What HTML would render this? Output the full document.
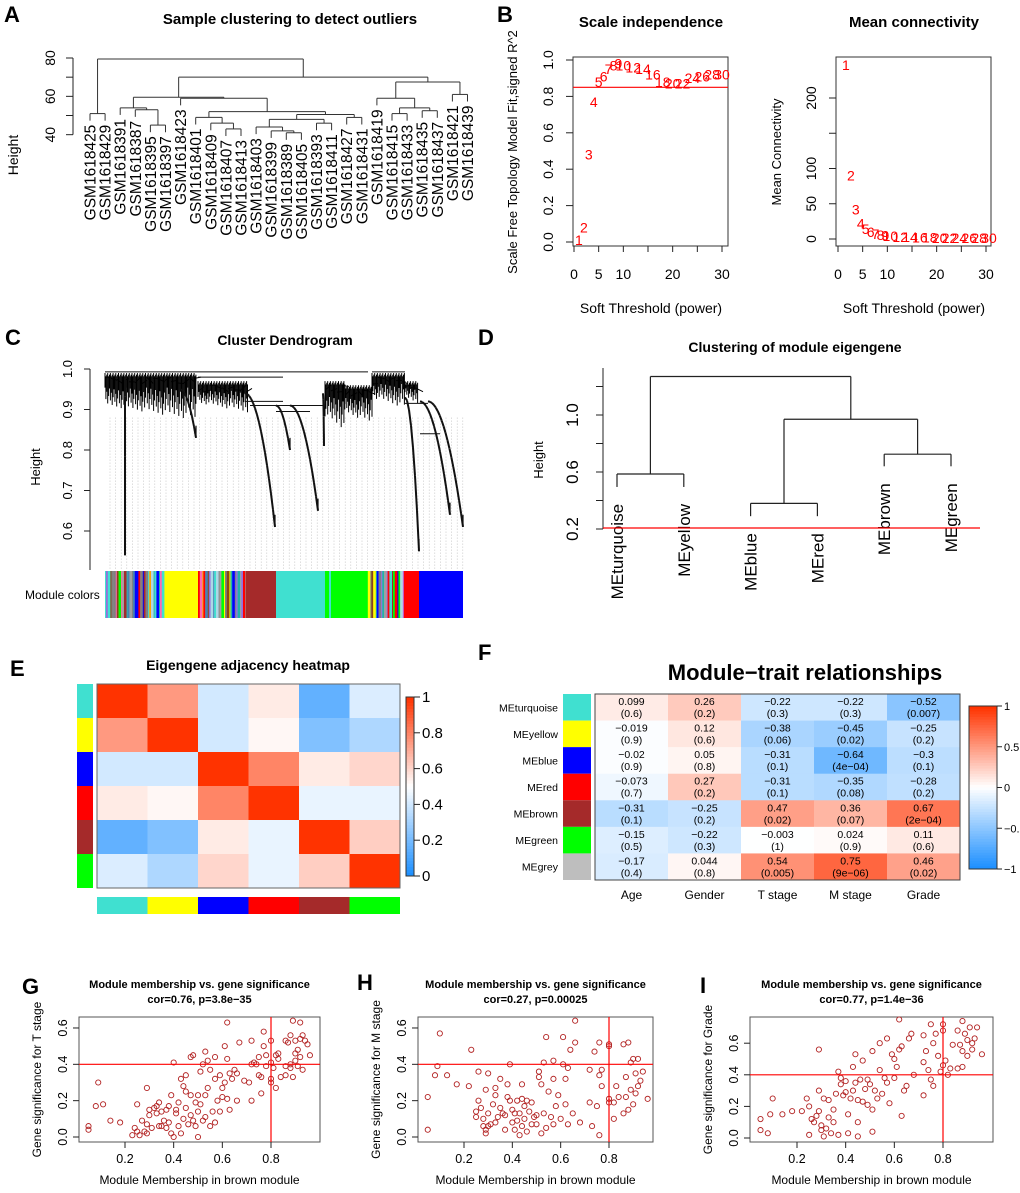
<!DOCTYPE html>
<html><head><meta charset="utf-8"><style>
html,body{margin:0;padding:0;background:#fff}
svg{display:block;font-family:"Liberation Sans",Arial,sans-serif}
</style></head><body>
<svg id="fig" width="1020" height="1193" viewBox="0 0 1020 1193" xmlns="http://www.w3.org/2000/svg"></svg>
<script>
// ---------- data ----------
const aLeaves=["GSM1618425","GSM1618429","GSM1618391","GSM1618387","GSM1618395","GSM1618397","GSM1618423","GSM1618401","GSM1618409","GSM1618407","GSM1618413","GSM1618403","GSM1618399","GSM1618389","GSM1618405","GSM1618393","GSM1618411","GSM1618427","GSM1618431","GSM1618419","GSM1618415","GSM1618433","GSM1618435","GSM1618437","GSM1618421","GSM1618439"];
const aTree=[[0,1,51],[[[2,[3,[4,5,45],53],54],[6,[[7,[8,[9,10,43],46],49],[[[11,[12,[13,14,41],42],44],[15,16,46],48],[17,18,49],50.5],52],59],59.5],[[19,[[20,21,51],[22,23,52.5],54],59],[24,25,61],67.5],70],79.5];
const bPowers=[1,2,3,4,5,6,7,8,9,10,12,14,16,18,20,22,24,26,28,30];
const bFit=[0.01,0.08,0.48,0.77,0.88,0.91,0.95,0.97,0.98,0.97,0.96,0.95,0.92,0.88,0.87,0.87,0.90,0.91,0.92,0.92];
const bConn=[247,90,42,22,14,10,7,6,5,4,3,2.5,2,2,1.5,1.5,1.2,1.2,1,1];
const cBlocks=[[105,196,0.99,0.87],[198,248,0.97,0.89],[325,345,0.97,0.84],[345,372,0.96,0.86],[372,405,0.99,0.90],[405,418,0.97,0.91]];
const cTails=[[125,0.98,125,0.54],[180,0.95,196,0.83],[245,0.94,275,0.61],[276,0.91,290,0.80],[290,0.91,318,0.65],[323,0.94,324,0.81],[405,0.93,419,0.55],[420,0.92,450,0.64],[428,0.92,463,0.61]];
const cLinks=[[105,368,0.993],[198,283,0.98],[245,283,0.92],[250,323,0.91],[276,310,0.895],[372,405,0.993],[405,428,0.915],[420,440,0.84]];
const cSegs=[[105,165,"mix"],[165,198,"#FFFF00"],[198,246,"mix"],[246,276,"#A52A2A"],[276,325,"#40E0D0"],[325,329,"#00FF00"],[329,331,"#40E0D0"],[331,366,"#00FF00"],[366,404,"mix2"],[404,419,"#FF0000"],[419,463,"#0000FF"]];
const stripePal=["#40E0D0","#FFA500","#0000FF","#A52A2A","#808080","#00FF00","#9370DB","#FFFF00","#ADD8E6","#FF0000","#20B2AA","#808080","#4682B4","#FF69B4","#40E0D0","#0000FF","#A0A0A0","#8B4513"];
const dNames=["MEturquoise","MEyellow","MEblue","MEred","MEbrown","MEgreen"];
const dLeafEnd=[0.495,0.495,0.29,0.29,0.64,0.64];
const dMerges=[[0,1,0.586],[2,3,0.38],[4,5,0.725],["b","c",0.97],["a","d",1.27]];
const eMods=["#40E0D0","#FFFF00","#0000FF","#FF0000","#A52A2A","#00FF00"];
const eAdj=[[1,0.75,0.4,0.55,0.15,0.42],[0.75,1,0.4,0.52,0.22,0.32],[0.4,0.4,1,0.8,0.55,0.6],[0.55,0.52,0.8,1,0.45,0.45],[0.15,0.22,0.55,0.45,1,0.62],[0.42,0.32,0.6,0.45,0.62,1]];
const fRows=["MEturquoise","MEyellow","MEblue","MEred","MEbrown","MEgreen","MEgrey"];
const fRowCols=["#40E0D0","#FFFF00","#0000FF","#FF0000","#A52A2A","#00FF00","#BEBEBE"];
const fTraits=["Age","Gender","T stage","M stage","Grade"];
const fCor=[[0.099,0.26,-0.22,-0.22,-0.52],[-0.019,0.12,-0.38,-0.45,-0.25],[-0.02,0.05,-0.31,-0.64,-0.3],[-0.073,0.27,-0.31,-0.35,-0.28],[-0.31,-0.25,0.47,0.36,0.67],[-0.15,-0.22,-0.003,0.024,0.11],[-0.17,0.044,0.54,0.75,0.46]];
const fP=[["0.6","0.2","0.3","0.3","0.007"],["0.9","0.6","0.06","0.02","0.2"],["0.9","0.8","0.1","4e\u221204","0.1"],["0.7","0.2","0.1","0.08","0.2"],["0.1","0.2","0.02","0.07","2e\u221204"],["0.5","0.3","1","0.9","0.6"],["0.4","0.8","0.005","9e\u221206","0.02"]];
const gX=[0.05,0.05,0.09,0.08,0.11,0.14,0.18,0.23,0.24,0.25,0.25,0.26,0.27,0.28,0.29,0.29,0.29,0.30,0.30,0.31,0.32,0.33,0.33,0.34,0.34,0.35,0.35,0.36,0.37,0.37,0.38,0.38,0.39,0.39,0.40,0.40,0.41,0.41,0.42,0.42,0.43,0.43,0.44,0.44,0.45,0.45,0.45,0.46,0.47,0.47,0.47,0.48,0.48,0.49,0.49,0.50,0.50,0.50,0.51,0.51,0.52,0.52,0.53,0.53,0.53,0.54,0.54,0.55,0.55,0.56,0.57,0.57,0.57,0.58,0.59,0.59,0.60,0.60,0.61,0.61,0.62,0.62,0.62,0.63,0.63,0.64,0.65,0.66,0.66,0.67,0.69,0.71,0.72,0.72,0.72,0.73,0.74,0.75,0.75,0.76,0.76,0.77,0.77,0.78,0.78,0.80,0.80,0.80,0.80,0.81,0.82,0.82,0.83,0.83,0.84,0.86,0.86,0.86,0.87,0.88,0.88,0.88,0.89,0.89,0.90,0.90,0.90,0.91,0.91,0.92,0.92,0.92,0.93,0.93,0.94,0.95,0.96];
const gY=[0.06,0.04,0.30,0.17,0.18,0.09,0.08,0.01,0.05,0.18,0.03,0.01,0.09,0.03,0.27,0.07,0.02,0.15,0.12,0.05,0.16,0.13,0.17,0.06,0.19,0.14,0.06,0.09,0.15,0.05,0.17,0.08,0.02,0.23,0.41,0.00,0.13,0.15,0.06,0.19,0.32,0.02,0.10,0.28,0.34,0.16,0.25,0.07,0.44,0.23,0.12,0.45,0.09,0.19,0.06,0.14,0.00,0.23,0.36,0.18,0.40,0.09,0.47,0.23,0.11,0.42,0.27,0.37,0.06,0.14,0.44,0.32,0.08,0.20,0.14,0.34,0.22,0.27,0.50,0.30,0.63,0.43,0.21,0.15,0.35,0.32,0.37,0.35,0.20,0.52,0.31,0.30,0.53,0.40,0.20,0.41,0.40,0.44,0.34,0.33,0.24,0.58,0.50,0.39,0.45,0.53,0.32,0.30,0.41,0.38,0.27,0.45,0.46,0.43,0.33,0.53,0.39,0.34,0.52,0.56,0.40,0.38,0.33,0.64,0.53,0.42,0.46,0.48,0.39,0.63,0.54,0.44,0.56,0.37,0.53,0.51,0.45];
const hX=[0.05,0.05,0.08,0.09,0.10,0.13,0.17,0.22,0.23,0.25,0.25,0.26,0.26,0.27,0.28,0.28,0.29,0.29,0.29,0.30,0.30,0.30,0.31,0.32,0.33,0.33,0.33,0.34,0.35,0.35,0.36,0.37,0.37,0.38,0.38,0.39,0.39,0.40,0.40,0.41,0.41,0.42,0.42,0.43,0.43,0.44,0.44,0.44,0.45,0.45,0.46,0.46,0.47,0.48,0.48,0.49,0.50,0.50,0.51,0.51,0.52,0.52,0.53,0.53,0.54,0.54,0.55,0.56,0.57,0.57,0.57,0.58,0.59,0.60,0.61,0.61,0.62,0.62,0.63,0.63,0.64,0.65,0.66,0.66,0.68,0.72,0.72,0.73,0.74,0.75,0.76,0.76,0.76,0.77,0.77,0.80,0.80,0.80,0.80,0.82,0.82,0.83,0.84,0.86,0.86,0.87,0.87,0.88,0.88,0.89,0.89,0.90,0.90,0.91,0.91,0.92,0.92,0.93,0.94,0.96];
const hY=[0.22,0.04,0.34,0.39,0.57,0.34,0.29,0.28,0.48,0.11,0.14,0.36,0.20,0.16,0.06,0.10,0.26,0.02,0.04,0.35,0.13,0.06,0.07,0.18,0.27,0.23,0.08,0.11,0.32,0.16,0.13,0.12,0.04,0.22,0.29,0.40,0.20,0.15,0.08,0.13,0.04,0.20,0.09,0.13,0.01,0.29,0.21,0.06,0.17,0.10,0.20,0.03,0.14,0.19,0.07,0.11,0.12,0.07,0.33,0.36,0.29,0.02,0.41,0.13,0.55,0.05,0.25,0.11,0.42,0.32,0.07,0.17,0.23,0.10,0.40,0.55,0.32,0.18,0.38,0.07,0.48,0.13,0.64,0.52,0.08,0.37,0.19,0.06,0.47,0.17,0.52,0.34,0.01,0.28,0.37,0.51,0.50,0.21,0.19,0.19,0.10,0.28,0.22,0.51,0.13,0.33,0.22,0.52,0.15,0.26,0.41,0.43,0.18,0.35,0.24,0.43,0.28,0.31,0.36,0.21];
const iX=[0.05,0.05,0.08,0.09,0.10,0.14,0.18,0.22,0.24,0.25,0.25,0.26,0.27,0.28,0.29,0.29,0.29,0.30,0.30,0.31,0.31,0.32,0.33,0.33,0.34,0.35,0.35,0.36,0.37,0.37,0.38,0.38,0.39,0.40,0.40,0.41,0.41,0.42,0.43,0.43,0.44,0.44,0.45,0.45,0.45,0.46,0.47,0.47,0.48,0.49,0.49,0.50,0.51,0.51,0.51,0.52,0.53,0.54,0.54,0.55,0.56,0.57,0.57,0.58,0.59,0.60,0.60,0.61,0.62,0.62,0.63,0.63,0.64,0.65,0.66,0.67,0.68,0.72,0.72,0.72,0.73,0.74,0.75,0.75,0.76,0.76,0.77,0.78,0.79,0.80,0.80,0.80,0.81,0.82,0.83,0.84,0.86,0.86,0.87,0.88,0.88,0.88,0.89,0.90,0.90,0.91,0.92,0.92,0.93,0.94,0.96];
const iY=[0.12,0.05,0.03,0.15,0.25,0.15,0.17,0.17,0.25,0.20,0.02,0.12,0.10,0.14,0.17,0.56,0.30,0.08,0.05,0.25,0.01,0.06,0.24,0.13,0.03,0.18,0.10,0.28,0.42,0.02,0.34,0.38,0.27,0.29,0.36,0.15,0.03,0.25,0.45,0.30,0.53,0.35,0.10,0.24,0.01,0.37,0.49,0.23,0.31,0.37,0.21,0.34,0.55,0.18,0.04,0.30,0.25,0.60,0.43,0.28,0.38,0.63,0.35,0.22,0.53,0.50,0.38,0.45,0.75,0.56,0.58,0.14,0.30,0.33,0.63,0.66,0.40,0.65,0.48,0.27,0.55,0.43,0.72,0.37,0.60,0.33,0.66,0.52,0.42,0.72,0.68,0.46,0.49,0.40,0.44,0.59,0.68,0.44,0.59,0.74,0.55,0.45,0.66,0.52,0.62,0.70,0.60,0.56,0.63,0.70,0.53];

// ---------- helpers ----------
const NS="http://www.w3.org/2000/svg";
const svg=document.getElementById('fig');
function el(tag,attrs,name){
  const e=document.createElementNS(NS,tag);
  for(const k in attrs) e.setAttribute(k,attrs[k]);
  
  
  svg.appendChild(e); return e;
}
function L(x1,y1,x2,y2,name,stroke,w,dash){const a={x1,y1,x2,y2,stroke:stroke||"#222","stroke-width":w||1};if(dash)a["stroke-dasharray"]=dash;return el("line",a,name);}
function R(x,y,w,h,fill,name,stroke){const a={x,y,width:w,height:h,fill};if(stroke){a.stroke=stroke;a["stroke-width"]=1;}return el("rect",a,name);}
function T(x,y,s,size,name,o){o=o||{};const a={x,y,"font-size":size,"text-anchor":o.a||"middle",fill:o.f||"#000"};
  if(o.b)a["font-weight"]="bold"; if(o.r)a.transform="rotate(-90 "+x+" "+y+")";
  const e=el("text",a,name); e.textContent=s; return e;}
function mix(c1,c2,t){return "rgb("+[0,1,2].map(i=>Math.round(c1[i]+(c2[i]-c1[i])*t)).join(",")+")";}
const BL=[30,144,255],WH=[255,255,255],RD=[255,51,0];
function bwr(t){t=Math.max(0,Math.min(1,t));return t<0.5?mix(BL,WH,t/0.5):mix(WH,RD,(t-0.5)/0.5);}

// panel letters
[["A",4,22],["B",497,22],["C",5,345],["D",478,345],["E",10,676],["F",478,660],["G",22,994],["H",357,990],["I",700,993]].forEach(p=>T(p[1],p[2],p[0],22,"panel-label-"+p[0].toLowerCase(),{a:"start",b:1}));

// ---------- Panel A ----------
T(290,24,"Sample clustering to detect outliers",15,"title-sample-clustering",{b:1});
const yA=h=>58+(80-h)*1.917, xA=i=>90+i*15.1;
L(73,yA(80),73,yA(40),"a-y-axis");
[40,50,60,70,80].forEach(v=>L(66,yA(v),73,yA(v),"a-y-tick"));
[40,60,80].forEach(v=>T(55,yA(v),String(v),14,"a-y-tick-label",{r:1}));
T(18,155,"Height",14,"a-y-axis-title",{r:1});
function drawA(n){
  if(typeof n==="number") return {x:xA(n),leaf:n};
  const l=drawA(n[0]), r=drawA(n[1]);
  [l,r].forEach(c=>{
    if(c.leaf!==undefined){const yb=yA(n[2]-3.7);L(c.x,yA(n[2]),c.x,yb,"a-leaf-branch","#333");T(c.x+5.5,yb+4,aLeaves[c.leaf],15.5,"a-leaf-label",{a:"end",r:1});}
    else L(c.x,yA(c.h),c.x,yA(n[2]),"a-branch","#333");
  });
  L(l.x,yA(n[2]),r.x,yA(n[2]),"a-merge","#333");
  return {x:(l.x+r.x)/2,h:n[2]};
}
const rootA=drawA(aTree);

// ---------- Panel B left ----------
T(651,27,"Scale independence",15,"title-scale-independence",{b:1});
const xB1=p=>574+p*(722-574)/30, yB1=v=>242-v*182;
R(573,57,155,189,"none","plot-box-scale",'#333');
L(573,yB1(0.85),728,yB1(0.85),"r2-cutoff-line","#f00",1.2);
[0,5,10,15,20,25,30].forEach(v=>L(xB1(v),246,xB1(v),252,"b1-x-tick"));
[0,5,10,20,30].forEach(v=>T(xB1(v),279,String(v),14,"b1-x-tick-label"));
[0,0.2,0.4,0.6,0.8,1].forEach(v=>{L(566,yB1(v),573,yB1(v),"b1-y-tick");T(553,yB1(v),v.toFixed(1),14,"b1-y-tick-label",{r:1});});
T(517,152,"Scale Free Topology Model Fit,signed R^2",13,"b1-y-axis-title",{r:1});
T(651,313,"Soft Threshold (power)",14,"b1-x-axis-title");
bPowers.forEach((p,i)=>T(xB1(p),yB1(bFit[i])+5,String(p),14,"b1-power-label",{f:"#f00"}));

// ---------- Panel B right ----------
T(914,27,"Mean connectivity",15,"title-mean-connectivity",{b:1});
const xB2=p=>838+p*(986-838)/30, yB2=v=>239-v*0.705;
R(836,57,155,189,"none","plot-box-connectivity",'#333');
[0,5,10,15,20,25,30].forEach(v=>L(xB2(v),246,xB2(v),252,"b2-x-tick"));
[0,5,10,20,30].forEach(v=>T(xB2(v),279,String(v),14,"b2-x-tick-label"));
[0,50,100,150,200].forEach(v=>L(829,yB2(v),836,yB2(v),"b2-y-tick"));
[0,50,100,200].forEach(v=>T(816,yB2(v),String(v),14,"b2-y-tick-label",{r:1}));
T(781,152,"Mean Connectivity",13,"b2-y-axis-title",{r:1});
T(914,313,"Soft Threshold (power)",14,"b2-x-axis-title");
bPowers.forEach((p,i)=>T(xB2(p)+3,Math.min(yB2(bConn[i])+5,243),String(p),14,"b2-power-label",{f:"#f00"}));

// ---------- Panel C ----------
T(285,345,"Cluster Dendrogram",14,"title-cluster-dendrogram",{b:1});
const yC=h=>369+(1-h)*405;
L(90,yC(1),90,570,"c-y-axis");
[0.6,0.7,0.8,0.9,1.0].forEach(v=>{L(84,yC(v),90,yC(v),"c-y-tick");T(72,yC(v),v.toFixed(1),13,"c-y-tick-label",{r:1});});
T(40,467,"Height",13,"c-y-axis-title",{r:1});
for(let x=110;x<463;x+=5.6) L(x,yC(0.88),x,570,"c-guide-line","#aaa",0.6,"1,2");
cBlocks.forEach((b,bi)=>{let k=0;for(let x=b[0];x<=b[1];x+=0.9,k++){
  const fr=((k*37+bi*11)%23)/23; const span=(b[2]-b[3]);
  const prog=(x-b[0])/(b[1]-b[0]+1);
  const hb=b[2]-span*(0.3+0.7*fr*(0.55+0.45*prog));
  L(x,yC(b[2]-0.004*((k*5)%3)),x,yC(hb),"c-branch","#000",1);}
  for(let x=b[0];x<b[1];x+=6) L(x,yC(b[2]-0.01-0.02*(((x*13)%7)/7)),x+6,yC(b[2]-0.01-0.02*(((x*17)%5)/5)),"c-sub-merge","#000",1);});
cLinks.forEach(l=>L(l[0],yC(l[2]),l[1],yC(l[2]),"c-merge-line","#111",1));
cTails.forEach(t=>{const n=Math.max(3,Math.round((t[2]-t[0])/2));for(let j=0;j<n;j++){const f=j/n,f2=(j+1)/n;
  L(t[0]+(t[2]-t[0])*f,yC(t[1]+(t[3]-t[1])*f*f),t[0]+(t[2]-t[0])*f2,yC(t[1]+(t[3]-t[1])*f2*f2),"c-module-tail","#111",2);}
  L(t[2],yC(t[3]+0.03),t[2],yC(t[3]),"c-tail-end","#111",1.2);});
let si=0;
cSegs.forEach(s=>{ if(s[2]==="mix"||s[2]==="mix2"){let x=s[0];while(x<s[1]){const w=1+((si*7)%3)*0.8;R(x,571,Math.min(w,s[1]-x)+0.2,47,stripePal[(si*5+((si*si)%7)+(s[2]==="mix2"?2:0))%stripePal.length],"module-color-stripe");x+=w;si++;}}
  else R(s[0],571,s[1]-s[0],47,s[2],"module-color-block");});
T(25,599,"Module colors",12,"module-colors-label",{a:"start"});

// ---------- Panel D ----------
T(795,352,"Clustering of module eigengene",14,"title-module-eigengene",{b:1});
const yD=h=>529-(h-0.2)*142.5, xD=i=>617+i*66.8;
L(603,368,603,yD(0.2),"d-y-axis");
[0.2,0.4,0.6,0.8,1.0,1.2].forEach(v=>L(596,yD(v),603,yD(v),"d-y-tick"));
[0.2,0.6,1.0].forEach(v=>T(578,yD(v),v.toFixed(1),17,"d-y-tick-label",{r:1}));
T(543,460,"Height",13,"d-y-axis-title",{r:1});
const dNode={};
dMerges.forEach((m,mi)=>{
  const key=["a","b","c","d","e"][mi];
  const kids=[m[0],m[1]].map(c=>typeof c==="number"?{x:xD(c),h:dLeafEnd[c],leaf:c}:dNode[c]);
  kids.forEach(c=>L(c.x,yD(c.h),c.x,yD(m[2]),"d-branch","#222",1.2));
  L(kids[0].x,yD(m[2]),kids[1].x,yD(m[2]),"d-merge","#222",1.2);
  dNode[key]={x:(kids[0].x+kids[1].x)/2,h:m[2]};
});
dNames.forEach((n,i)=>T(xD(i)+6,yD(dLeafEnd[i])+17,n,17,"d-leaf-label",{a:"end",r:1}));
L(603,yD(0.2)-1,980,yD(0.2)-1,"d-cut-line","#f00",1.2);

// ---------- Panel E ----------
T(248,670,"Eigengene adjacency heatmap",14,"title-adjacency-heatmap",{b:1});
const ex0=97,ey0=684,ecw=(400-97)/6,ech=(888-684)/6;
eAdj.forEach((row,r)=>row.forEach((v,c)=>R(ex0+c*ecw,ey0+r*ech,ecw+0.3,ech+0.3,bwr(v),"adjacency-cell")));
R(ex0,ey0,ecw*6,ech*6,"none","heatmap-border","#666");
eMods.forEach((c,i)=>{R(77,ey0+i*ech,16,ech,c,"e-row-color");R(ex0+i*ecw,897,ecw,17,c,"e-col-color");});
for(let k=0;k<60;k++) R(406,697+k*179/60,8,179/60+0.5,bwr(1-k/59),"e-colorbar-step");
R(406,697,8,179,"none","e-colorbar-border","#333");
[[1,"1"],[0.8,"0.8"],[0.6,"0.6"],[0.4,"0.4"],[0.2,"0.2"],[0,"0"]].forEach(v=>{const y=876-v[0]*179;L(414,y,420,y,"e-colorbar-tick");T(422,y+5,v[1],15,"e-colorbar-label",{a:"start"});});

// ---------- Panel F ----------
T(805,680,"Module\u2212trait relationships",22,"title-module-trait",{b:1});
const fx0=595,fy0=694,fcw=73,frh=(880-694)/7;
fCor.forEach((row,r)=>row.forEach((v,c)=>{R(fx0+c*fcw,fy0+r*frh,fcw+0.3,frh+0.3,bwr((v+1)/2),"trait-cell");
  const cx=fx0+c*fcw+fcw/2;T(cx,fy0+r*frh+11,String(v).replace("-","\u2212"),10.5,"trait-cor-value");T(cx,fy0+r*frh+23,"("+fP[r][c]+")",10.5,"trait-p-value");}));
R(fx0,fy0,fcw*5,frh*7,"none","trait-border","#444");
fRows.forEach((n,i)=>{R(563,fy0+i*frh,28,frh,fRowCols[i],"f-row-color");T(558,fy0+i*frh+frh/2+4,n,10.5,"f-row-label",{a:"end"});});
fTraits.forEach((n,i)=>T(fx0+i*fcw+fcw/2,899,n,12,"f-trait-label"));
for(let k=0;k<60;k++) R(969,706+k*163/60,28,163/60+0.5,bwr(1-k/59),"f-colorbar-step");
R(969,706,28,163,"none","f-colorbar-border","#333");
[[1,"1"],[0.5,"0.5"],[0,"0"],[-0.5,"\u22120.5"],[-1,"\u22121"]].forEach(v=>{const y=787.5-v[0]*81.5;L(997,y,1002,y,"f-colorbar-tick");T(1004,y+4,v[1],11,"f-colorbar-label",{a:"start"});});

// ---------- Panels G H I ----------
function scatter(key,xs,ys,box,xA0,xA1,y0,ypu,ticksY,ylab,cor){
  const [bx0,bx1,by0,by1]=box;const xpu=(xA1-xA0)/0.6;
  const sx=v=>xA0+(v-0.2)*xpu, sy=v=>y0-v*ypu;
  const cx=(bx0+bx1)/2;
  T(cx,988,"Module membership vs. gene significance",11,key+"-title",{b:1});
  T(cx,1003,cor,11,key+"-subtitle",{b:1});
  R(bx0,by0,bx1-bx0,by1-by0,"none",key+"-plot-box","#555");
  [0.2,0.4,0.6,0.8].forEach(v=>{L(sx(v),by1,sx(v),by1+6,key+"-x-tick");T(sx(v),by1+21,v.toFixed(1),12.5,key+"-x-tick-label");});
  ticksY.forEach(v=>{L(bx0-6,sy(v),bx0,sy(v),key+"-y-tick");T(bx0-12,sy(v),v.toFixed(1),12.5,key+"-y-tick-label",{r:1});});
  T(bx0-38,(by0+by1)/2,ylab,12,key+"-y-axis-title",{r:1});
  T(cx,1184,"Module Membership in brown module",12,key+"-x-axis-title");
  xs.forEach((x,i)=>el("circle",{cx:sx(x),cy:sy(ys[i]),r:2.6,fill:"none",stroke:"#b22222","stroke-width":0.9},key+"-point"));
  L(bx0,sy(0.4),bx1,sy(0.4),key+"-gs-threshold","#f00",1.2);
  L(sx(0.8),by0,sx(0.8),by1,key+"-mm-threshold","#f00",1.2);
}
scatter("g",gX,gY,[79,320,1017,1142],125,271,1137,181.7,[0,0.2,0.4,0.6],"Gene significance for T stage","cor=0.76, p=3.8e\u221235");
scatter("h",hX,hY,[418,653,1017,1142],464,609,1137,181.7,[0,0.2,0.4,0.6],"Gene significance for M stage","cor=0.27, p=0.00025");
scatter("i",iX,iY,[750,993,1017,1142],797,943,1138,158,[0,0.2,0.4,0.6],"Gene significance for Grade","cor=0.77, p=1.4e\u221236");
</script>
</body></html>
